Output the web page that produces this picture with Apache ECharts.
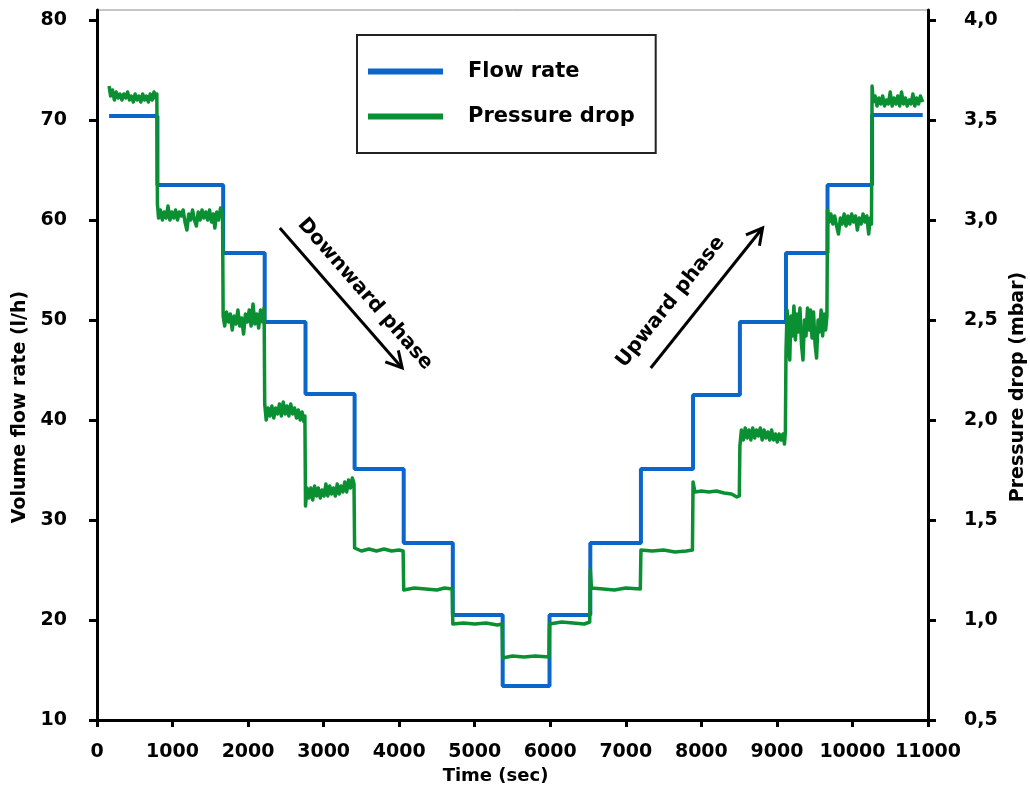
<!DOCTYPE html>
<html>
<head>
<meta charset="utf-8">
<script src="https://cdn.jsdelivr.net/npm/echarts@6/dist/echarts.min.js"></script>
<style>
  html, body { margin: 0; padding: 0; background: #fff; }
  #chart { width: 1030px; height: 791px; }
</style>
</head>
<body>
<div id="chart"></div>
<script>
// Start time (s) of each flow-rate plateau; the last entry is the end of the run
const stepTimes = [160, 800, 1670, 2220, 2760, 3410, 4060, 4710, 5370, 5990, 6530, 7200, 7890, 8510, 9120, 9670, 10260, 10930];
// Flow rate on each plateau (l/h): downward phase, then upward phase
const flowRate = [70.4, 63.5, 56.7, 49.8, 42.6, 35.1, 27.7, 20.5, 13.4, 20.5, 27.7, 35.1, 42.5, 49.8, 56.7, 63.5, 70.5];

// Recorded pressure drop (mbar) as [time s, value] readings
const pressureTrace = [
  [160, 3.67], [180, 3.62], [205, 3.65], [230, 3.60], [255, 3.64], [280, 3.61], [305, 3.63], [330, 3.60], [355, 3.63], [380, 3.61], [405, 3.64], [430, 3.60], [455, 3.62], [480, 3.59], [505, 3.63], [530, 3.60], [555, 3.62], [580, 3.59], [605, 3.63], [630, 3.60], [655, 3.62], [680, 3.59], [705, 3.63], [730, 3.60], [755, 3.64], [775, 3.61], [792, 3.63],
  [800, 3.08], [815, 3.01], [840, 3.05], [865, 3.00], [890, 3.04], [915, 3.01], [940, 3.07], [965, 3.00], [990, 3.04], [1015, 3.01], [1040, 3.05], [1065, 3.00], [1090, 3.04], [1115, 3.02], [1140, 3.05], [1165, 2.99], [1190, 2.95], [1215, 3.03], [1240, 3.00], [1265, 3.05], [1290, 3.00], [1315, 2.97], [1340, 3.04], [1365, 3.00], [1390, 3.05], [1415, 3.01], [1440, 3.04], [1465, 3.00], [1490, 3.05], [1515, 2.99], [1540, 3.03], [1560, 2.96], [1585, 3.04], [1610, 3.00], [1635, 3.06], [1662, 3.02],
  [1670, 2.52], [1690, 2.47], [1715, 2.54], [1740, 2.49], [1765, 2.53], [1790, 2.45], [1815, 2.52], [1840, 2.48], [1865, 2.55], [1890, 2.47], [1915, 2.51], [1940, 2.43], [1965, 2.53], [1990, 2.49], [2015, 2.55], [2040, 2.47], [2065, 2.58], [2090, 2.48], [2115, 2.53], [2140, 2.46], [2165, 2.55], [2190, 2.49], [2212, 2.56],
  [2220, 2.08], [2240, 2.00], [2265, 2.06], [2290, 2.02], [2315, 2.07], [2340, 2.01], [2365, 2.06], [2390, 2.03], [2415, 2.08], [2440, 2.02], [2465, 2.09], [2490, 2.03], [2515, 2.07], [2540, 2.02], [2565, 2.08], [2590, 2.03], [2615, 2.06], [2640, 2.01], [2665, 2.05], [2690, 2.00], [2715, 2.04], [2740, 1.99], [2752, 2.02],
  [2760, 1.57], [2780, 1.66], [2805, 1.61], [2830, 1.66], [2855, 1.60], [2880, 1.67], [2905, 1.62], [2930, 1.66], [2955, 1.61], [2980, 1.65], [3005, 1.62], [3030, 1.68], [3055, 1.62], [3080, 1.67], [3105, 1.63], [3130, 1.66], [3155, 1.62], [3180, 1.68], [3205, 1.63], [3230, 1.67], [3255, 1.64], [3280, 1.69], [3305, 1.64], [3330, 1.70], [3355, 1.66], [3380, 1.71], [3402, 1.68],
  [3410, 1.36], [3500, 1.345], [3600, 1.355], [3700, 1.345], [3800, 1.355], [3900, 1.345], [4000, 1.35], [4052, 1.345],
  [4060, 1.15], [4200, 1.16], [4350, 1.155], [4500, 1.15], [4600, 1.16], [4702, 1.155],
  [4710, 0.98], [4850, 0.985], [5000, 0.98], [5150, 0.985], [5300, 0.975], [5362, 0.98],
  [5370, 0.81], [5500, 0.82], [5650, 0.815], [5800, 0.82], [5982, 0.815],
  [5990, 0.98], [6150, 0.99], [6300, 0.985], [6450, 0.98], [6522, 0.99],
  [6530, 1.25], [6545, 1.16], [6700, 1.155], [6850, 1.15], [7000, 1.16], [7192, 1.155],
  [7200, 1.35], [7350, 1.345], [7500, 1.35], [7650, 1.34], [7800, 1.345], [7882, 1.35],
  [7890, 1.69], [7915, 1.64], [8000, 1.645], [8100, 1.64], [8200, 1.645], [8300, 1.635], [8400, 1.63], [8470, 1.615], [8502, 1.62],
  [8510, 1.87], [8530, 1.95], [8555, 1.90], [8580, 1.96], [8605, 1.91], [8630, 1.95], [8655, 1.90], [8680, 1.96], [8705, 1.91], [8730, 1.95], [8755, 1.92], [8780, 1.96], [8805, 1.90], [8830, 1.95], [8855, 1.91], [8880, 1.94], [8905, 1.90], [8930, 1.95], [8955, 1.90], [8980, 1.93], [9005, 1.89], [9030, 1.93], [9055, 1.90], [9080, 1.93], [9100, 1.88], [9112, 1.94],
  [9120, 2.34], [9135, 2.55], [9150, 2.40], [9170, 2.30], [9185, 2.52], [9205, 2.42], [9225, 2.57], [9245, 2.40], [9265, 2.53], [9285, 2.44], [9305, 2.56], [9325, 2.38], [9345, 2.30], [9365, 2.50], [9385, 2.42], [9405, 2.56], [9425, 2.45], [9445, 2.55], [9465, 2.41], [9485, 2.54], [9505, 2.38], [9525, 2.31], [9545, 2.50], [9565, 2.44], [9585, 2.55], [9605, 2.42], [9625, 2.53], [9645, 2.45], [9662, 2.52],
  [9670, 3.05], [9690, 2.99], [9715, 3.03], [9740, 2.98], [9765, 3.02], [9790, 2.97], [9815, 2.93], [9840, 3.01], [9865, 2.98], [9890, 3.03], [9915, 2.97], [9940, 3.02], [9965, 2.98], [9990, 3.03], [10015, 2.99], [10040, 3.02], [10065, 2.95], [10090, 3.01], [10115, 2.98], [10140, 3.03], [10165, 2.99], [10190, 3.02], [10215, 2.93], [10235, 3.01], [10252, 2.98],
  [10260, 3.67], [10275, 3.59], [10300, 3.62], [10325, 3.57], [10350, 3.61], [10375, 3.58], [10400, 3.62], [10425, 3.57], [10450, 3.60], [10475, 3.58], [10500, 3.64], [10525, 3.57], [10550, 3.61], [10575, 3.58], [10600, 3.62], [10625, 3.57], [10650, 3.64], [10675, 3.58], [10700, 3.61], [10725, 3.57], [10750, 3.60], [10775, 3.58], [10800, 3.63], [10825, 3.57], [10850, 3.61], [10875, 3.58], [10900, 3.62], [10930, 3.59]
];

// Axis tick values
const flowTicks = [10, 20, 30, 40, 50, 60, 70, 80];
const pressureTicks = [0.5, 1.0, 1.5, 2.0, 2.5, 3.0, 3.5, 4.0];

// Phase arrows, as [time s, flow l/h] for tail and head
const downArrow = [[2420, 59.2], [4040, 45.2]];
const upArrow = [[7330, 45.2], [8810, 59.2]];

const FONT = 'DejaVu Sans';
const BLUE = '#0a66c8';
const GREEN = '#0b8f33';

// Flow plateaus as step points (last level held to the end time)
const flowData = stepTimes.map((t, i) => [t, flowRate[Math.min(i, flowRate.length - 1)]]);

const chart = echarts.init(document.getElementById('chart'), null, { renderer: 'canvas' });

const axisLineStyle = { color: '#000', width: 3 };
const tickLabel = { color: '#000', fontFamily: FONT, fontWeight: 'bold', fontSize: 19 };
const nameStyle = { color: '#000', fontFamily: FONT, fontWeight: 'bold', fontSize: 19 };

chart.setOption({
  animation: false,
  backgroundColor: '#fff',
  grid: {
    left: 97, right: 102, top: 10, bottom: 71,
    outerBoundsMode: 'none', containLabel: false,
    show: true, borderColor: '#8c8c8c', borderWidth: 1
  },
  legend: {
    left: 357, top: 35,
    orient: 'vertical',
    itemWidth: 75, itemHeight: 6, itemGap: 24,
    padding: [26, 21, 26, 11],
    borderColor: '#222', borderWidth: 2,
    textStyle: { color: '#000', fontFamily: FONT, fontWeight: 'bold', fontSize: 21, padding: [0, 0, 0, 20], width: 180 },
    data: [{ name: 'Flow rate', icon: 'rect' }, { name: 'Pressure drop', icon: 'rect' }]
  },
  xAxis: {
    type: 'value', min: 0, max: 11000, interval: 1000,
    axisLine: { show: true, onZero: false, lineStyle: axisLineStyle },
    axisTick: { show: true, length: 7, lineStyle: axisLineStyle },
    axisLabel: Object.assign({ margin: 23, formatter: v => String(v) }, tickLabel),
    splitLine: { show: false },
    name: 'Time (sec)', nameLocation: 'middle', nameGap: 46,
    nameTextStyle: Object.assign({}, nameStyle, { fontSize: 18, padding: [0, 34, 0, 0] })
  },
  yAxis: [
    {
      type: 'value', min: 10, max: 81, position: 'left',
      axisLine: { show: true, onZero: false, lineStyle: axisLineStyle },
      axisTick: { show: true, length: 8, lineStyle: axisLineStyle, customValues: flowTicks },
      axisLabel: Object.assign({ margin: 30, customValues: flowTicks, formatter: v => String(v) }, tickLabel),
      splitLine: { show: false },
      name: 'Volume flow rate (l/h)', nameLocation: 'middle', nameGap: 65, nameRotate: 90,
      nameTextStyle: Object.assign({}, nameStyle, { padding: [0, 84, 0, 0] })
    },
    {
      type: 'value', min: 0.5, max: 4.05, position: 'right',
      axisLine: { show: true, onZero: false, lineStyle: axisLineStyle },
      axisTick: { show: true, length: 8, lineStyle: axisLineStyle, customValues: pressureTicks },
      axisLabel: Object.assign({ margin: 36, customValues: pressureTicks, formatter: v => v.toFixed(1).replace('.', ',') }, tickLabel),
      splitLine: { show: false },
      name: 'Pressure drop (mbar)', nameLocation: 'middle', nameGap: 78, nameRotate: 90,
      nameTextStyle: Object.assign({}, nameStyle, { padding: [0, 44, 0, 0] })
    }
  ],
  series: [
    {
      name: 'Flow rate', type: 'line', yAxisIndex: 0, step: 'end',
      data: flowData, showSymbol: false, color: BLUE,
      lineStyle: { color: BLUE, width: 4 }, z: 2
    },
    {
      name: 'Pressure drop', type: 'line', yAxisIndex: 1,
      data: pressureTrace, showSymbol: false, color: GREEN,
      lineStyle: { color: GREEN, width: 3.5, join: 'round' }, z: 3
    }
  ]
});

// Phase arrows and their captions, placed from data coordinates
function px(p) { return chart.convertToPixel({ xAxisIndex: 0, yAxisIndex: 0 }, p); }
function arrow(tail, head) {
  const a = px(tail), b = px(head);
  const ang = Math.atan2(b[1] - a[1], b[0] - a[0]);
  const L = 18, spread = 0.5;
  const h1 = [b[0] - L * Math.cos(ang - spread), b[1] - L * Math.sin(ang - spread)];
  const h2 = [b[0] - L * Math.cos(ang + spread), b[1] - L * Math.sin(ang + spread)];
  return [
    { type: 'line', shape: { x1: a[0], y1: a[1], x2: b[0], y2: b[1] }, style: { stroke: '#000', lineWidth: 3 } },
    { type: 'polyline', shape: { points: [h1, b, h2] }, style: { stroke: '#000', lineWidth: 3, fill: null } }
  ];
}
function caption(tail, head, text, dx, dy) {
  const a = px(tail), b = px(head);
  const ang = Math.atan2(b[1] - a[1], b[0] - a[0]);
  return {
    type: 'text', x: (a[0] + b[0]) / 2 + dx, y: (a[1] + b[1]) / 2 + dy, rotation: -ang,
    style: { text: text, fill: '#000', font: 'bold 20px "' + FONT + '"', align: 'center', verticalAlign: 'middle' }
  };
}
chart.setOption({
  graphic: [].concat(
    arrow(downArrow[0], downArrow[1]),
    arrow(upArrow[0], upArrow[1]),
    [caption(downArrow[0], downArrow[1], 'Downward phase', 24, -4),
     caption(upArrow[0], upArrow[1], 'Upward phase', -36, 4)]
  )
});
</script>
</body>
</html>
